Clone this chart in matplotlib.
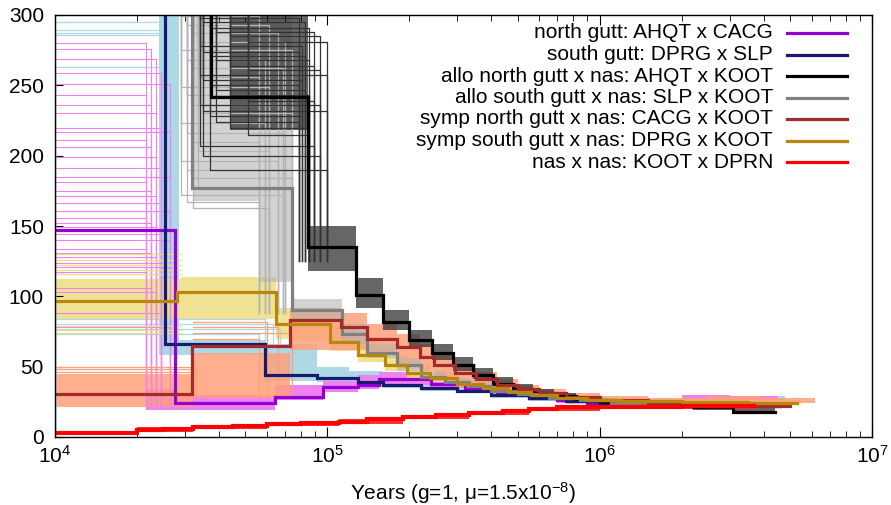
import numpy as np
import matplotlib.pyplot as plt

plt.rcParams['font.family'] = ['Liberation Sans', 'DejaVu Sans']
plt.rcParams['mathtext.fontset'] = 'custom'
plt.rcParams['mathtext.rm'] = 'Liberation Sans'
plt.rcParams['mathtext.it'] = 'Liberation Sans'

# ---- main curves: step start times (last entry = end of curve) and Ne (x10^4)
purple_t = [1e4, 2.76e4, 6.43e4, 9.6e4, 1.3e5, 1.55e5, 2.4e5, 3.2e5, 4.2e5, 5.5e5, 7e5, 9e5, 1.3e6, 2e6, 3e6, 4.6e6]
purple_n = [147, 24, 28.5, 35.5, 37, 41, 38, 34, 31, 28, 26, 24.5, 23.5, 22.5, 22]

navy_t = [1e4, 2.54e4, 5.9e4, 9.2e4, 1.3e5, 1.6e5, 2.2e5, 3e5, 4e5, 5.5e5, 7.5e5, 1e6, 1.5e6, 2.5e6, 4.5e6]
navy_n = [420, 66, 44, 42, 39, 37, 35, 32.5, 30, 27.5, 25.5, 24, 23, 22.5]

black_t = [1e4, 3.74e4, 8.5e4, 1.27e5, 1.6e5, 2e5, 2.42e5, 2.9e5, 3.43e5, 4.06e5, 4.8e5, 5.7e5, 6.8e5, 8.2e5, 1e6, 1.4e6, 2.2e6, 3.1e6, 4.4e6]
black_n = [420, 242, 135, 101, 82, 69, 60, 51, 44, 38, 34, 31, 29, 27, 25, 23, 21, 18]

grey_t = [1e4, 3.18e4, 7.4e4, 1.13e5, 1.4e5, 1.8e5, 2.2e5, 2.7e5, 3.3e5, 4e5, 5e5, 6.5e5, 8.5e5, 1.1e6, 1.6e6, 2.6e6, 4.6e6]
grey_n = [420, 177, 90, 73, 60, 51, 43, 39, 36, 33, 30.5, 28, 26, 24.5, 23, 22]

brown_t = [1e4, 3.18e4, 7.3e4, 1.12e5, 1.4e5, 1.8e5, 2.19e5, 2.47e5, 2.94e5, 3.5e5, 4.2e5, 5e5, 6e5, 7.5e5, 1e6, 1.5e6, 2.5e6, 5e6]
brown_n = [30.6, 64.7, 83, 78, 70, 64, 57, 51, 45.5, 41, 37, 34, 31, 28.5, 26, 24, 22]

gold_t = [1e4, 2.81e4, 6.5e4, 1.02e5, 1.3e5, 1.63e5, 1.96e5, 2.38e5, 3e5, 3.73e5, 4.6e5, 5.6e5, 7e5, 9e5, 1.2e6, 2e6, 3.5e6, 5.3e6]
gold_n = [97, 103, 80, 67.5, 58, 51, 45.5, 42, 38, 35, 32, 30, 28, 26.5, 25.5, 25, 24]

red_t = [1e4, 2e4, 2.5e4, 3.2e4, 4.5e4, 6e4, 8e4, 1.1e5, 1.4e5, 1.9e5, 2.5e5, 3.3e5, 4.4e5, 5.5e5, 7e5, 1e6, 2e6, 3.7e6]
red_n = [3, 5, 6, 7, 8, 9, 10, 11, 12.5, 14, 15.5, 17, 18.5, 20, 21, 21.5, 22]

# ---- bootstrap spread (lower / upper envelope)
pink_t = [2.15e4, 2.75e4, 6.4e4, 9.6e4, 1.3e5, 1.55e5, 2.4e5, 3.2e5, 4.2e5, 5.5e5, 7e5, 9e5, 1.3e6, 2e6, 3e6, 4.5e6]
pink_lo = [19, 19.5, 26, 32, 34, 37, 35, 32, 29, 26.5, 24.5, 23, 22, 21.5, 21.5]
pink_hi = [34, 30, 37, 40, 44, 46, 42, 38, 34, 31, 28, 27, 26, 30, 29]

lblue_t = [2.4e4, 2.85e4, 5.9e4, 9.2e4, 1.2e5, 1.6e5, 2.2e5, 3e5, 4e5, 5.5e5, 7.5e5, 1e6, 1.5e6, 2.5e6, 4.8e6]
lblue_lo = [58, 58, 40, 39, 37, 35, 33, 31, 28, 25.5, 23.5, 22.5, 22, 22]
lblue_hi = [300, 69, 66, 50, 47, 44, 41, 37, 33, 30, 28, 27, 27, 29]

dgrey_t = [4.4e4, 8.5e4, 1.27e5, 1.6e5, 2e5, 2.42e5, 2.9e5, 3.43e5, 4.06e5, 4.8e5, 5.7e5, 6.8e5, 8.2e5, 1e6, 1.4e6, 2.2e6, 3.1e6, 4.4e6]
dgrey_lo = [218, 118, 92, 76, 64, 55, 47, 41, 36, 32, 29.5, 27, 25, 23.5, 21.5, 19.5, 17.5]
dgrey_hi = [300, 150, 113, 90, 76, 66, 57, 49, 43, 38, 34, 31, 29, 26.5, 24.5, 22.5, 20.5]

lgrey_t = [3.2e4, 5.6e4, 7.4e4, 1.13e5, 1.4e5, 1.8e5, 2.2e5, 2.7e5, 3.3e5, 4e5, 5e5, 6.5e5, 8.5e5, 1.1e6, 1.6e6, 2.6e6, 4.6e6]
lgrey_lo = [168, 110, 82, 66, 56, 47, 40, 36.5, 33.5, 31, 28.5, 26.5, 25, 23.5, 22, 21]
lgrey_hi = [300, 300, 98, 80, 66, 56, 47, 42, 39, 36, 33, 30, 28, 26.5, 25, 24]

salmon_t = [1e4, 3.2e4, 7.3e4, 1.12e5, 1.4e5, 1.8e5, 2.19e5, 2.47e5, 2.94e5, 3.5e5, 4.2e5, 5e5, 6e5, 7.5e5, 1e6, 1.5e6, 2.5e6, 4e6, 6.2e6]
salmon_lo = [21, 28, 62, 62, 58, 52, 47, 43, 39, 36, 33, 30.5, 28, 26, 24, 22.5, 21, 24]
salmon_hi = [45, 60, 92, 88, 80, 73, 66, 58, 52, 46, 41, 37, 34, 31, 29, 28, 29, 28]

khaki_t = [1e4, 2.9e4, 6.5e4, 1.02e5, 1.3e5, 1.63e5, 1.96e5, 2.38e5, 3e5, 3.73e5, 4.6e5, 5.6e5, 7e5, 9e5, 1.2e6, 2e6, 3.5e6, 5.5e6]
khaki_lo = [84, 84, 70, 61, 53, 47, 42, 39, 35.5, 33, 30.5, 28.5, 27, 25.5, 24.5, 24, 23.5]
khaki_hi = [112, 114, 92, 80, 69, 58, 51, 46, 41, 38, 34, 31.5, 29.5, 28, 27, 26.5, 26]

lred_t = [1e4, 2e4, 3.2e4, 6e4, 1.1e5, 1.9e5, 3.3e5, 5.5e5, 1e6, 3.8e6]
lred_lo = [1.5, 3.5, 5.5, 7.5, 9.5, 12.5, 15.5, 18.5, 20]
lred_hi = [4.5, 7, 8.5, 10.5, 12.5, 15.5, 18.5, 21, 22.5]

# early-epoch bootstrap replicates (first step levels, start / end of that step)
pink_levels = [280, 276, 269, 259, 251, 243, 236, 230, 220, 217, 211, 206, 199, 191, 185, 181,
               175, 171, 166, 161, 156, 152, 149, 144, 140, 134, 131, 128, 124, 121, 117, 106, 103, 88, 78]
pink_ends = [2.15e4, 2.25e4, 2.35e4, 2.45e4, 2.65e4]
lblue_levels = [295, 289, 287, 286, 263, 84, 80, 77, 73]
khaki_levels = [130, 126, 122, 119, 116, 79, 76, 74]
salmon_levels = [50, 48, 46, 82, 78, 74, 70]
salmon_ends = [3.3e4, 3.3e4, 3.3e4, 6e4, 6.6e4, 7.4e4, 5.6e4]

dgrey_levels = [298, 295, 291, 288, 285, 281, 278, 274, 271, 268, 264, 261, 257, 254, 250, 247, 243,
                239, 236, 232, 228, 224, 220, 215, 207, 200, 190]
dgrey_starts = [3.4e4, 3.5e4, 3.7e4, 3.9e4, 4.4e4, 5.1e4]
dgrey_ends = [7.9e4, 8.3e4, 8.6e4, 8.9e4, 9.4e4, 1.0e5, 8.1e4]
lgrey_levels = [299, 293, 287, 281, 275, 268, 262, 256, 249, 243, 236, 230, 223, 216, 210, 203,
                196, 190, 184, 178, 172, 167, 163]
lgrey_starts = [2.9e4, 3.05e4, 3.2e4, 3.35e4]
lgrey_ends = [5.6e4, 6.1e4, 6.6e4, 7.0e4, 7.4e4, 5.9e4, 6.9e4]

labels = ['north gutt: AHQT x CACG', 'south gutt: DPRG x SLP', 'allo north gutt x nas: AHQT x KOOT',
          'allo south gutt x nas: SLP x KOOT', 'symp north gutt x nas: CACG x KOOT',
          'symp south gutt x nas: DPRG x KOOT', 'nas x nas: KOOT x DPRN']
colors = ['#9400D3', '#191970', '#000000', '#808080', '#A52A2A', '#B8860B', '#FF0000']


def band(ax, t, lo, hi, color, alpha=1.0):
    ax.fill_between(t, lo + [lo[-1]], hi + [hi[-1]], step='post', color=color, lw=0, alpha=alpha)


def steps(ax, t, n, color, lw=2.3):
    ax.step(t, n + [n[-1]], where='post', color=color, lw=lw, solid_joinstyle='miter')


def replicates(ax, levels, starts, ends, top, bottom, color, lw=0.9):
    for i, v in enumerate(levels):
        x0 = starts[i % len(starts)]
        x1 = ends[i % len(ends)]
        ax.plot([x0, x0, x1, x1], [top, v, v, bottom], color=color, lw=lw)


fig = plt.figure(figsize=(8.91, 5.05), dpi=100)
ax = fig.add_axes([55 / 891, 68 / 505, 817 / 891, 422 / 505])

# bootstrap replicates
band(ax, lblue_t, lblue_lo, lblue_hi, '#ADD8E6')
replicates(ax, lblue_levels, [1e4], [2.45e4, 2.45e4, 2.45e4, 2.45e4, 2.45e4, 5.9e4, 6.3e4, 6.7e4, 5.6e4],
           0, 60, '#ADD8E6')
for i, v in enumerate(pink_levels):
    xe = pink_ends[i % len(pink_ends)]
    ax.plot([1e4, xe, xe], [v, v, 21], color='#EE82EE', lw=0.8)
band(ax, pink_t, pink_lo, pink_hi, '#EE82EE')
band(ax, khaki_t, khaki_lo, khaki_hi, '#EEDD82', alpha=0.85)
for v in khaki_levels:
    ax.plot([1e4, 2.9e4], [v, v], color='#EEDD82', lw=0.9)
band(ax, salmon_t, salmon_lo, salmon_hi, '#FFA07A', alpha=0.85)
for v, xe in zip(salmon_levels, salmon_ends):
    x0 = 1e4 if v < 60 else 3.2e4
    ax.plot([x0, xe, xe], [v, v, 30], color='#FFA07A', lw=0.9)
band(ax, lgrey_t, lgrey_lo, lgrey_hi, '#B4B4B4', alpha=0.6)
replicates(ax, lgrey_levels, lgrey_starts, lgrey_ends, 320, 88, '#B4B4B4')
band(ax, dgrey_t, dgrey_lo, dgrey_hi, '#333333', alpha=0.75)
replicates(ax, dgrey_levels, dgrey_starts, dgrey_ends, 320, 125, '#333333')
band(ax, lred_t, lred_lo, lred_hi, '#FF3333')

# main curves
steps(ax, purple_t, purple_n, colors[0])
steps(ax, navy_t, navy_n, colors[1])
steps(ax, black_t, black_n, colors[2])
steps(ax, grey_t, grey_n, colors[3])
steps(ax, brown_t, brown_n, colors[4])
steps(ax, gold_t, gold_n, colors[5])
steps(ax, red_t, red_n, colors[6], lw=3)

ax.set_xscale('log')
ax.set_xlim(1e4, 1e7)
ax.set_ylim(0, 300)
ax.set_yticks(range(0, 301, 50))
ax.set_xticks([1e4, 1e5, 1e6, 1e7])
ax.set_xticklabels([r'$10^{4}$', r'$10^{5}$', r'$10^{6}$', r'$10^{7}$'])
ax.tick_params(axis='both', which='both', direction='in', labelsize=15)
ax.tick_params(axis='x', which='major', length=7, top=True, pad=6)
ax.tick_params(axis='x', which='minor', length=4, top=True)
ax.tick_params(axis='y', which='major', length=6, right=False, pad=8)
ax.set_xlabel(r'Years (g=1, μ=1.5x10$^{-8}$)', fontsize=15, labelpad=9)
for s in ax.spines.values():
    s.set_linewidth(1.0)

# gnuplot-style key: right-aligned text, sample line to its right
for i, (lab, c) in enumerate(zip(labels, colors)):
    y = 1 - (18 + 21.5 * i) / 422
    ax.text(718 / 817, y, lab, transform=ax.transAxes, ha='right', va='center', fontsize=15)
    ax.plot([732 / 817, 792 / 817], [y, y], transform=ax.transAxes, color=c, lw=2.3)

plt.savefig('out.png', dpi=100)
